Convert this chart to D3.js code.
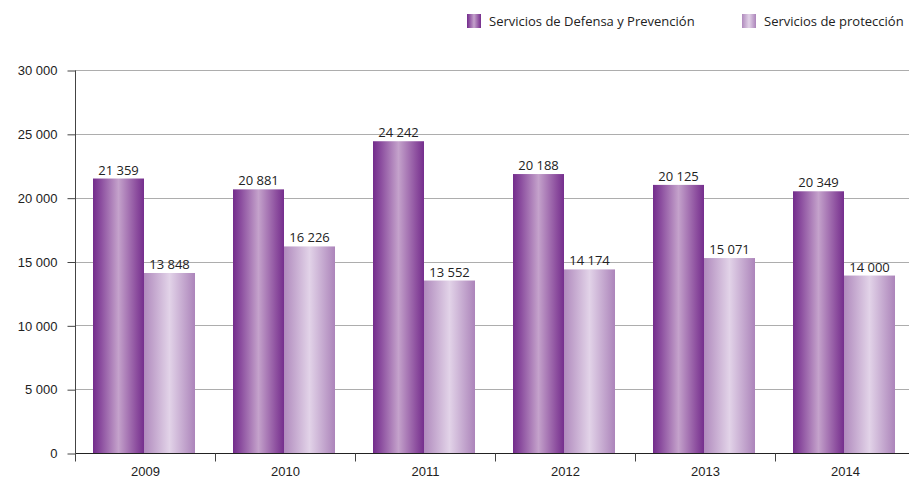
<!DOCTYPE html>
<html>
<head>
<meta charset="utf-8">
<script src="https://cdn.jsdelivr.net/npm/d3@7"></script>
<style>
  body { margin: 0; background: #fff; }
  svg { display: block; font-family: "Open Sans", sans-serif; }
  .grid line { stroke: #adadad; stroke-width: 1; }
  .lbl { font-size: 13px; fill: #222; }
</style>
</head>
<body>
<svg width="909" height="480"></svg>
<script>
const years = ["2009", "2010", "2011", "2012", "2013", "2014"];
const seriesNames = ["Servicios de Defensa y Prevención", "Servicios de protección"];
// bar heights as drawn in the reference (some differ from the printed labels)
const defensa = [21500, 20650, 24420, 21850, 21000, 20500];
const proteccion = [14100, 16180, 13510, 14380, 15270, 13900];
// value labels as printed in the reference
const defensaLabels = ["21 359", "20 881", "24 242", "20 188", "20 125", "20 349"];
const proteccionLabels = ["13 848", "16 226", "13 552", "14 174", "15 071", "14 000"];
const yTicks = [0, 5000, 10000, 15000, 20000, 25000, 30000];

const svg = d3.select("svg");
const margin = { left: 75, top: 70, bottom: 27 };
const height = 480;
const plotRight = 915;

const x = d3.scaleBand().domain(years).range([margin.left, plotRight]).paddingInner(0).paddingOuter(0);
const sub = d3.scaleBand().domain([0, 1]).range([0, 102]);
const groupOffset = (x.bandwidth() - 102) / 2 - 1;
const y = d3.scaleLinear().domain([0, 30000]).range([height - margin.bottom, margin.top]);

const fmt = d => d3.format(",")(d).replace(/,/g, " ");

// gradients
const defs = svg.append("defs");
function grad(id, stops) {
    const g = defs.append("linearGradient").attr("id", id)
        .attr("x1", "0%").attr("x2", "100%").attr("y1", "0%").attr("y2", "0%");
    stops.forEach(s => g.append("stop").attr("offset", s[0]).attr("stop-color", s[1]));
}
grad("gDef", [["0%", "#732c8c"], ["15%", "#8a4c9e"], ["50%", "#c4a2cb"], ["85%", "#8d4f9f"], ["100%", "#752e8d"]]);
grad("gPro", [["0%", "#b08abd"], ["50%", "#e2d3e8"], ["100%", "#ac84ba"]]);

// grid lines
svg.append("g").attr("class", "grid")
    .selectAll("line").data(yTicks.filter(d => d > 0)).enter().append("line")
    .attr("x1", margin.left).attr("x2", 909)
    .attr("y1", d => Math.round(y(d)) + 0.5).attr("y2", d => Math.round(y(d)) + 0.5);

// y axis
const yAxis = svg.append("g")
    .attr("transform", `translate(${margin.left + 0.5},0.5)`)
    .call(d3.axisLeft(y).tickValues(yTicks).tickSize(8).tickPadding(10).tickFormat(fmt));
yAxis.select(".domain").attr("stroke", "#444").attr("d", `M0,${Math.round(y(30000))}V${Math.round(y(0))}`);
yAxis.selectAll(".tick line").attr("stroke", "#444");
yAxis.selectAll("text").attr("class", "lbl").attr("font-family", null).attr("font-size", null).attr("fill", null);

// bars
const groups = svg.append("g").selectAll("g").data(years).enter().append("g")
    .attr("transform", d => `translate(${x(d) + groupOffset},0)`);

groups.append("rect")
    .attr("x", sub(0)).attr("width", sub.bandwidth())
    .attr("y", (d, i) => y(defensa[i])).attr("height", (d, i) => y(0) - y(defensa[i]))
    .attr("fill", "url(#gDef)");
groups.append("rect")
    .attr("x", sub(1)).attr("width", sub.bandwidth())
    .attr("y", (d, i) => y(proteccion[i])).attr("height", (d, i) => y(0) - y(proteccion[i]))
    .attr("fill", "url(#gPro)");

groups.append("text").attr("class", "lbl").attr("text-anchor", "middle")
    .attr("x", sub(0) + sub.bandwidth() / 2).attr("y", (d, i) => y(defensa[i]) - 4)
    .text((d, i) => defensaLabels[i]);
groups.append("text").attr("class", "lbl").attr("text-anchor", "middle")
    .attr("x", sub(1) + sub.bandwidth() / 2).attr("y", (d, i) => y(proteccion[i]) - 4)
    .text((d, i) => proteccionLabels[i]);

// x axis
const xAxis = svg.append("g")
    .attr("transform", `translate(0.5,${Math.round(y(0)) + 0.5})`)
    .call(d3.axisBottom(x).tickSize(0).tickPadding(13));
xAxis.select(".domain").attr("stroke", "#222").attr("d", `M${margin.left},0H909`);
xAxis.selectAll("text").attr("class", "lbl").attr("font-family", null).attr("font-size", null).attr("fill", null);
xAxis.append("g").selectAll("line").data(years).enter().append("line")
    .attr("x1", d => x(d)).attr("x2", d => x(d)).attr("y1", 0).attr("y2", 8).attr("stroke", "#444");

// legend
const legendX = [467, 742];
const legend = svg.append("g").selectAll("g").data(seriesNames).enter().append("g")
    .attr("transform", (d, i) => `translate(${legendX[i]},14)`);
legend.append("rect").attr("width", 14).attr("height", 14)
    .attr("fill", (d, i) => i === 0 ? "url(#gDef)" : "url(#gPro)");
legend.append("text").attr("class", "lbl").attr("x", 22).attr("y", 12).text(d => d);
</script>
</body>
</html>
